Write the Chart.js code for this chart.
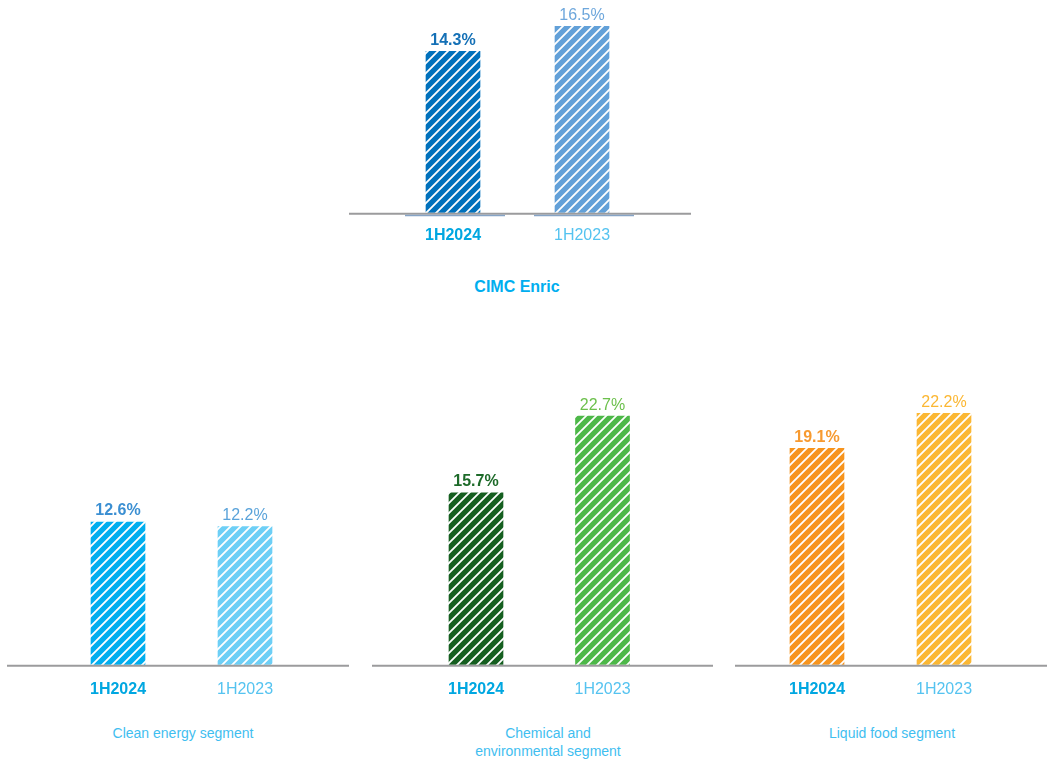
<!DOCTYPE html>
<html>
<head>
<meta charset="utf-8">
<script src="https://cdn.jsdelivr.net/npm/chart.js@4.4.1/dist/chart.umd.min.js"></script>
<style>
body { margin: 0; background: #fff; font-family: "Liberation Sans", Arial, sans-serif; }
.wrap { position: relative; width: 1047px; height: 760px; overflow: hidden; }
.box { position: absolute; }
.cap { position: absolute; width: 260px; text-align: center; color: #3fbef0; font-size: 14px; line-height: 18px; }
.title { position: absolute; width: 260px; text-align: center; color: #00aeef; font-size: 16px; font-weight: bold; line-height: 20px; }
</style>
</head>
<body>
<div class="wrap">
    <div class="box" style="left:349px;top:0px"><canvas id="enricChart" width="342" height="258"></canvas></div>
    <div class="title" style="left:387px;top:277px">CIMC Enric</div>

    <div class="box" style="left:7px;top:380px"><canvas id="cleanChart" width="342" height="334"></canvas></div>
    <div class="box" style="left:372px;top:380px"><canvas id="chemChart" width="341" height="334"></canvas></div>
    <div class="box" style="left:735px;top:380px"><canvas id="foodChart" width="312" height="334"></canvas></div>

    <div class="cap" style="left:53px;top:724px">Clean energy segment</div>
    <div class="cap" style="left:418px;top:724px">Chemical and<br>environmental segment</div>
    <div class="cap" style="left:762px;top:724px">Liquid food segment</div>
</div>
<script>
// gross profit margin, %
const periods = ['1H2024', '1H2023'];
const enricValues = [14.3, 16.5];
const cleanValues = [12.6, 12.2];
const chemValues = [15.7, 22.7];
const foodValues = [19.1, 22.2];

const FONT = '"Liberation Sans", Arial, sans-serif';

function hatch(color) {
    const c = document.createElement('canvas');
    c.width = 10; c.height = 10;
    const g = c.getContext('2d');
    g.fillStyle = color;
    g.fillRect(0, 0, 10, 10);
    g.strokeStyle = '#fff';
    g.lineWidth = 1.8;
    g.beginPath();
    g.moveTo(-2, 12); g.lineTo(12, -2);
    g.moveTo(-7, 7); g.lineTo(7, -7);
    g.moveTo(3, 17); g.lineTo(17, 3);
    g.stroke();
    return g.createPattern(c, 'repeat');
}

const barValues = {
    id: 'barValues',
    afterDatasetsDraw(chart, args, opts) {
        const ctx = chart.ctx;
        const data = chart.data.datasets[0].data;
        chart.getDatasetMeta(0).data.forEach((bar, i) => {
            ctx.save();
            ctx.font = (i === 0 ? 'bold ' : '') + '16px ' + FONT;
            ctx.fillStyle = opts.colors[i];
            ctx.textAlign = 'center';
            ctx.textBaseline = 'bottom';
            ctx.fillText(data[i].toFixed(1) + '%', bar.x, bar.y - 3);
            ctx.restore();
        });
    }
};

const baseline = {
    id: 'baseline',
    afterDatasetsDraw(chart, args, opts) {
        const ctx = chart.ctx;
        const y = chart.scales.y.getPixelForValue(0);
        ctx.save();
        ctx.strokeStyle = '#9b9b9d';
        ctx.lineWidth = 2;
        ctx.beginPath();
        ctx.moveTo(0, y + 1);
        ctx.lineTo(chart.width, y + 1);
        ctx.stroke();
        if (opts.underline) {
            ctx.strokeStyle = '#86a4c6';
            ctx.lineWidth = 1.5;
            chart.getDatasetMeta(0).data.forEach(bar => {
                ctx.beginPath();
                ctx.moveTo(bar.x - 48, y + 2.8);
                ctx.lineTo(bar.x + 52, y + 2.8);
                ctx.stroke();
            });
        }
        ctx.restore();
    }
};

function makeChart(id, values, barColors, labelColors, yMax, pad, tickPad, underline) {
    return new Chart(document.getElementById(id), {
        type: 'bar',
        data: {
            labels: periods,
            datasets: [{
                data: values,
                backgroundColor: barColors.map(hatch),
                borderWidth: 0,
                barThickness: 54
            }]
        },
        options: {
            responsive: false,
            animation: false,
            layout: { padding: pad },
            plugins: {
                legend: { display: false },
                tooltip: { enabled: false },
                barValues: { colors: labelColors },
                baseline: { underline: underline }
            },
            scales: {
                y: { display: false, min: 0, max: yMax },
                x: {
                    grid: { display: false, drawTicks: false },
                    border: { display: false },
                    ticks: {
                        padding: tickPad,
                        color: c => c.index === 0 ? '#00a7e1' : '#55c3f0',
                        font: c => ({ size: 16, family: FONT, weight: c.index === 0 ? 'bold' : 'normal' })
                    }
                }
            }
        },
        plugins: [barValues, baseline]
    });
}

makeChart('enricChart', enricValues, ['#0071bc', '#62a0d8'], ['#1470b6', '#6ea7dc'], 18,
    { top: 9.4, left: 39.5, right: 44.5, bottom: 0 }, 13, true);
makeChart('cleanChart', cleanValues, ['#00aeef', '#6dcff6'], ['#3b8fd2', '#5aa3da'], 25,
    { top: 1.5, left: 47.5, right: 40.5, bottom: 0 }, 15, false);
makeChart('chemChart', chemValues, ['#155f20', '#4db848'], ['#1d6a29', '#6cc04c'], 25,
    { top: 11, left: 40.75, right: 47.25, bottom: 0 }, 15, false);
makeChart('foodChart', foodValues, ['#f7941d', '#fbb733'], ['#f79a30', '#fbb733'], 25,
    { top: 1.5, left: 18.5, right: 39.5, bottom: 0 }, 15, false);
</script>
</body>
</html>
